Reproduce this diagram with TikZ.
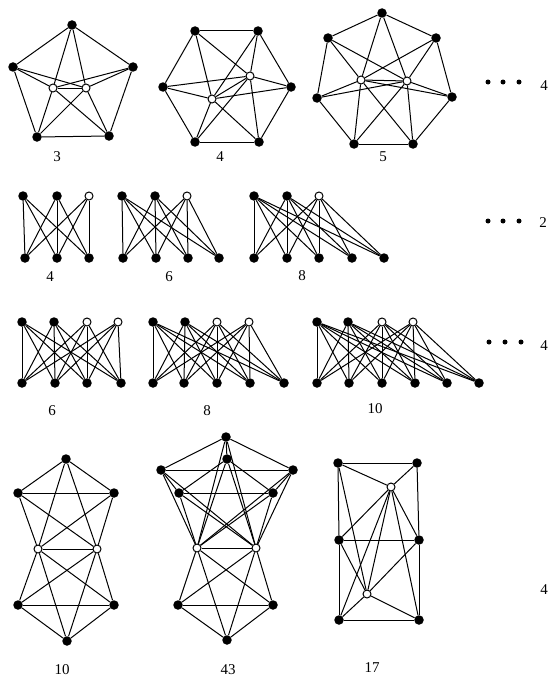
\documentclass[tikz,border=0pt]{standalone}
\usepackage{fontspec}
\setmainfont{Liberation Serif}
\begin{document}
\begin{tikzpicture}[x=1pt,y=-1pt,
  v/.style={circle,fill=black,inner sep=0pt,minimum size=9.5pt},
  o/.style={circle,draw=black,fill=white,line width=1pt,inner sep=0pt,minimum size=8pt},
  e/.style={line width=1pt},
  lab/.style={font=\fontsize{15}{18}\selectfont,inner sep=0pt},
  dt/.style={circle,fill=black,inner sep=0pt,minimum size=5pt}]
\useasboundingbox (0,0) rectangle (551,677);

% ---------- Row 1: pentagon ----------
\node[v] (A1) at (72,25) {};
\node[v] (A2) at (133,67) {};
\node[v] (A3) at (109,136) {};
\node[v] (A4) at (37,137) {};
\node[v] (A5) at (13,67) {};
\node[o] (AL) at (53,88) {};
\node[o] (AR) at (86,88) {};
\foreach \a/\b in {A1/A2,A2/A3,A3/A4,A4/A5,A5/A1,AL/AR} \draw[e] (\a)--(\b);
\foreach \i in {1,...,5} {\draw[e] (AL)--(A\i); \draw[e] (AR)--(A\i);}
\node[lab] (labA) at (57,157) {3};

% ---------- Row 1: hexagon ----------
\node[v] (B1) at (195,31) {};
\node[v] (B2) at (258,31) {};
\node[v] (B3) at (291,87) {};
\node[v] (B4) at (259,142) {};
\node[v] (B5) at (195,142) {};
\node[v] (B6) at (163,87) {};
\node[o] (BU) at (250,76) {};
\node[o] (BD) at (212,99) {};
\foreach \a/\b in {B1/B2,B2/B3,B3/B4,B4/B5,B5/B6,B6/B1,BU/BD} \draw[e] (\a)--(\b);
\foreach \i in {1,...,6} {\draw[e] (BU)--(B\i); \draw[e] (BD)--(B\i);}
\node[lab] (labB) at (220,157) {4};

% ---------- Row 1: heptagon ----------
\node[v] (C1) at (382,13) {};
\node[v] (C2) at (436,38) {};
\node[v] (C3) at (452,97) {};
\node[v] (C4) at (413,144) {};
\node[v] (C5) at (354,144) {};
\node[v] (C6) at (317,98) {};
\node[v] (C7) at (328,38) {};
\node[o] (CL) at (361,80) {};
\node[o] (CR) at (407,81) {};
\foreach \a/\b in {C1/C2,C2/C3,C3/C4,C4/C5,C5/C6,C6/C7,C7/C1,CL/CR} \draw[e] (\a)--(\b);
\foreach \i in {1,...,7} {\draw[e] (CL)--(C\i); \draw[e] (CR)--(C\i);}
\node[lab] (labC) at (383,157) {5};

\node[dt] (d11) at (488,82) {};
\node[dt] (d12) at (503,82) {};
\node[dt] (d13) at (519,82) {};
\node[lab] (n1) at (544,86) {4};

% ---------- Row 2 ----------
\node[v] (Dt1) at (23,196) {};
\node[v] (Dt2) at (57,196) {};
\node[o] (Dt3) at (89,196) {};
\node[v] (Db1) at (25,258) {};
\node[v] (Db2) at (57,258) {};
\node[v] (Db3) at (89,258) {};
\foreach \i in {1,2,3} \foreach \j in {1,2,3} \draw[e] (Dt\i)--(Db\j);
\node[lab] (labD) at (50,277) {4};

\node[v] (Et1) at (122,196) {};
\node[v] (Et2) at (155,196) {};
\node[o] (Et3) at (187,196) {};
\node[v] (Eb1) at (123,258) {};
\node[v] (Eb2) at (156,258) {};
\node[v] (Eb3) at (188,258) {};
\node[v] (Eb4) at (219,258) {};
\foreach \i in {1,2,3} \foreach \j in {1,...,4} \draw[e] (Et\i)--(Eb\j);
\node[lab] (labE) at (169,277) {6};

\node[v] (Ft1) at (254,196) {};
\node[v] (Ft2) at (287,196) {};
\node[o] (Ft3) at (319,196) {};
\node[v] (Fb1) at (254,258) {};
\node[v] (Fb2) at (287,258) {};
\node[v] (Fb3) at (319,258) {};
\node[v] (Fb4) at (352,258) {};
\node[v] (Fb5) at (384,258) {};
\foreach \i in {1,2,3} \foreach \j in {1,...,5} \draw[e] (Ft\i)--(Fb\j);
\node[lab] (labF) at (302,276) {8};

\node[dt] (d21) at (488,221) {};
\node[dt] (d22) at (503,221) {};
\node[dt] (d23) at (519,221) {};
\node[lab] (n2) at (543,223) {2};

% ---------- Row 3 ----------
\node[v] (Gt1) at (22,322) {};
\node[v] (Gt2) at (54,322) {};
\node[o] (Gt3) at (87,322) {};
\node[o] (Gt4) at (118,322) {};
\node[v] (Gb1) at (22,383) {};
\node[v] (Gb2) at (55,383) {};
\node[v] (Gb3) at (87,383) {};
\node[v] (Gb4) at (121,383) {};
\foreach \i in {1,...,4} \foreach \j in {1,...,4} \draw[e] (Gt\i)--(Gb\j);
\node[lab] (labG) at (52,411) {6};

\node[v] (Ht1) at (153,322) {};
\node[v] (Ht2) at (185,322) {};
\node[o] (Ht3) at (217,322) {};
\node[o] (Ht4) at (249,322) {};
\node[v] (Hb1) at (153,383) {};
\node[v] (Hb2) at (184,383) {};
\node[v] (Hb3) at (217,383) {};
\node[v] (Hb4) at (250,383) {};
\node[v] (Hb5) at (284,383) {};
\foreach \i in {1,...,4} \foreach \j in {1,...,5} \draw[e] (Ht\i)--(Hb\j);
\node[lab] (labH) at (207,411) {8};

\node[v] (It1) at (317,322) {};
\node[v] (It2) at (348,322) {};
\node[o] (It3) at (382,322) {};
\node[o] (It4) at (413,322) {};
\node[v] (Ib1) at (317,383) {};
\node[v] (Ib2) at (349,383) {};
\node[v] (Ib3) at (382,383) {};
\node[v] (Ib4) at (415,383) {};
\node[v] (Ib5) at (447,383) {};
\node[v] (Ib6) at (479,383) {};
\foreach \i in {1,...,4} \foreach \j in {1,...,6} \draw[e] (It\i)--(Ib\j);
\node[lab] (labI) at (375,409) {10};

\node[dt] (d31) at (489,342) {};
\node[dt] (d32) at (505,342) {};
\node[dt] (d33) at (521,342) {};
\node[lab] (n3) at (544,346) {4};

% ---------- Row 4: graph 10 ----------
\node[v] (Ja) at (66,459) {};
\node[v] (Jb) at (18,493) {};
\node[v] (Jc) at (114,493) {};
\node[o] (JL) at (38,549) {};
\node[o] (JR) at (97,549) {};
\node[v] (Jd) at (18,605) {};
\node[v] (Je) at (114,605) {};
\node[v] (Jf) at (67,641) {};
\foreach \a/\b in {Ja/Jb,Ja/Jc,Jb/Jc,Ja/JL,Ja/JR,Jb/JL,Jb/JR,Jc/JL,Jc/JR,JL/JR,
  JL/Jd,JL/Je,JR/Jd,JR/Je,JL/Jf,JR/Jf,Jd/Je,Jd/Jf,Je/Jf} \draw[e] (\a)--(\b);
\node[lab] (labJ) at (62,670) {10};

% ---------- Row 4: graph 43 ----------
\node[v] (Kt) at (226,437) {};
\node[v] (Kit) at (227,459) {};
\node[v] (Ko1) at (161,470) {};
\node[v] (Ko2) at (293,470) {};
\node[v] (Ki1) at (179,493) {};
\node[v] (Ki2) at (273,493) {};
\node[o] (KL) at (197,548) {};
\node[o] (KR) at (256,548) {};
\node[v] (Kd) at (178,605) {};
\node[v] (Ke) at (273,605) {};
\node[v] (Kf) at (227,640) {};
\foreach \a/\b in {Kt/Ko1,Kt/Ko2,Ko1/Ko2,Kit/Ki1,Kit/Ki2,Ki1/Ki2,Kt/Kit,Ko1/Ki1,Ko2/Ki2,
  Kt/KL,Kt/KR,Kit/KL,Kit/KR,Ko1/KL,Ko1/KR,Ko2/KL,Ko2/KR,Ki1/KL,Ki1/KR,Ki2/KL,Ki2/KR,KL/KR,
  KL/Kd,KL/Ke,KR/Kd,KR/Ke,KL/Kf,KR/Kf,Kd/Ke,Kd/Kf,Ke/Kf} \draw[e] (\a)--(\b);
\node[lab] (labK) at (228,670) {43};

% ---------- Row 4: graph 17 ----------
\node[v] (Ma) at (338,463) {};
\node[v] (Mb) at (417,463) {};
\node[o] (Mc) at (391,487) {};
\node[v] (Md) at (339,540) {};
\node[v] (Me) at (419,540) {};
\node[o] (Mf) at (367,594) {};
\node[v] (Mg) at (339,620) {};
\node[v] (Mh) at (419,620) {};
\foreach \a/\b in {Ma/Mb,Ma/Md,Md/Mg,Mb/Me,Me/Mh,Mg/Mh,Md/Me,Ma/Mc,Mb/Mc,
  Mc/Md,Mc/Me,Mc/Mg,Mc/Mh,Mc/Mf,Ma/Mf,Md/Mf,Me/Mf,Mg/Mf,Mh/Mf} \draw[e] (\a)--(\b);
\node[lab] (labM) at (372,668) {17};

\node[lab] (n4) at (544,590) {4};
\end{tikzpicture}
\end{document}
